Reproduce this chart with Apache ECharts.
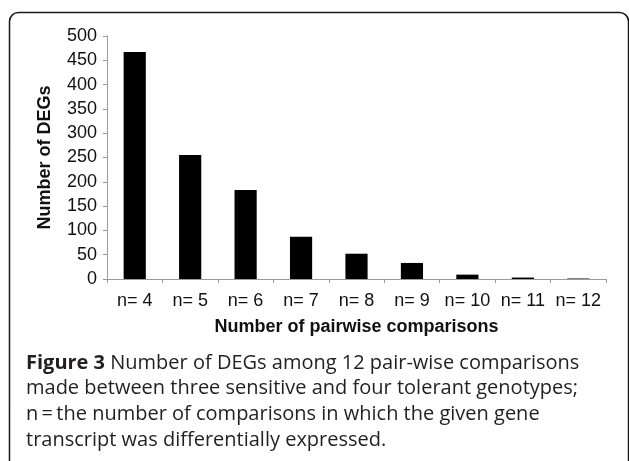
<!DOCTYPE html>
<html>
<head>
<meta charset="utf-8" />
<title>Figure 3</title>
<script src="https://cdn.jsdelivr.net/npm/echarts@6/dist/echarts.min.js"></script>
<style>
  html, body { margin: 0; padding: 0; background: #fff; }
  #chart { width: 629px; height: 461px; }
</style>
</head>
<body>
<div id="chart"></div>
<script>
// data
var categories = ['n= 4', 'n= 5', 'n= 6', 'n= 7', 'n= 8', 'n= 9', 'n= 10', 'n= 11', 'n= 12'];
var degCounts = [467, 255, 183, 87, 52, 33, 9, 3, 1];
var yTicks = [0, 50, 100, 150, 200, 250, 300, 350, 400, 450, 500];

var captionLines = [
  '{b|Figure 3} Number of DEGs among 12 pair-wise comparisons',
  'made between three sensitive and four tolerant genotypes;',
  'n\u2009=\u2009the number of comparisons in which the given gene',
  'transcript was differentially expressed.'
];

var chart = echarts.init(document.getElementById('chart'));

var option = {
  animation: false,
  backgroundColor: '#fff',
  grid: { left: 107, right: 23, top: 36, bottom: 182 },
  xAxis: {
    type: 'category',
    data: categories,
    name: 'Number of pairwise comparisons',
    nameLocation: 'middle',
    nameGap: 39,
    nameTextStyle: { fontFamily: 'Liberation Sans', fontSize: 18, fontWeight: 'bold', color: '#111' },
    axisLine: { lineStyle: { color: '#9a9a9a', width: 1 } },
    axisTick: { show: true, length: 4, alignWithLabel: false, lineStyle: { color: '#9a9a9a' } },
    axisLabel: { fontFamily: 'Liberation Sans', fontSize: 18, color: '#111', margin: 13, interval: 0 }
  },
  yAxis: {
    type: 'value',
    min: yTicks[0],
    max: yTicks[yTicks.length - 1],
    interval: 50,
    name: 'Number of DEGs',
    nameLocation: 'middle',
    nameGap: 53,
    nameTextStyle: { fontFamily: 'Liberation Sans', fontSize: 18, fontWeight: 'bold', color: '#111' },
    axisLine: { show: true, lineStyle: { color: '#9a9a9a', width: 1 } },
    axisTick: { show: true, length: 4, lineStyle: { color: '#9a9a9a' } },
    splitLine: { show: false },
    axisLabel: { fontFamily: 'Liberation Sans', fontSize: 18, color: '#111', margin: 10 }
  },
  series: [{
    type: 'bar',
    data: degCounts,
    barWidth: '40%',
    itemStyle: { color: '#000' }
  }],
  graphic: [
    {
      // rounded frame round the figure, runs off the bottom of the picture
      type: 'rect',
      shape: { x: 9.5, y: 12.5, width: 619, height: 520, r: 9 },
      style: { fill: null, stroke: '#1a1a1a', lineWidth: 1.5 },
      silent: true
    },
    {
      type: 'text',
      left: 26,
      top: 350,
      style: {
        text: captionLines.join('\n'),
        fontFamily: 'Open Sans',
        fontSize: 20,
        fontWeight: 500,
        lineHeight: 25.7,
        fill: '#231f20',
        rich: {
          b: { fontFamily: 'Open Sans', fontSize: 20, fontWeight: 'bold', lineHeight: 25.7, fill: '#231f20' }
        }
      }
    }
  ]
};

chart.setOption(option);
</script>
</body>
</html>
